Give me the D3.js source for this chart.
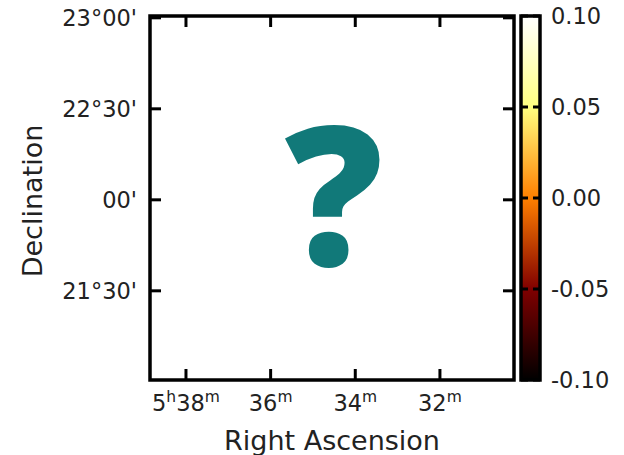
<!DOCTYPE html>
<html>
<head>
<meta charset="utf-8">
<script src="https://cdn.jsdelivr.net/npm/d3@7"></script>
<style>
  body { margin: 0; background: #fff; }
  text { font-family: "DejaVu Sans", sans-serif; fill: #222; }
</style>
</head>
<body>
<div id="wrapper"></div>
<script>
// axis ranges (RA in minutes of 5h, Dec in degrees)
const raDomain = [38.85, 30.25]
const decDomain = [21.01, 23.01]
const raTicks = [38, 36, 34, 32]
const decTicks = [23.0, 22.5, 22.0, 21.5]
const decTickLabels = ["23°00'", "22°30'", "00'", "21°30'"]
const cbDomain = [-0.10, 0.10]
const cbTicks = [0.10, 0.05, 0.00, -0.05, -0.10]

function drawChart() {
  let dimensions = {
    width: 624,
    height: 455,
    margin: { top: 16, right: 110, bottom: 75, left: 150 },
  }
  dimensions.boundedWidth = 364
  dimensions.boundedHeight = 364

  const svg = d3.select("#wrapper")
    .append("svg")
      .attr("width", dimensions.width)
      .attr("height", dimensions.height)

  const bounds = svg.append("g")
    .attr("transform", `translate(${dimensions.margin.left}, ${dimensions.margin.top})`)

  const xScale = d3.scaleLinear()
    .domain(raDomain)
    .range([0, dimensions.boundedWidth])

  const yScale = d3.scaleLinear()
    .domain(decDomain)
    .range([dimensions.boundedHeight, 0])

  // big question mark placeholder
  bounds.append("text")
    .attr("x", 184)
    .attr("y", 250)
    .attr("text-anchor", "middle")
    .style("font-family", "'Open Sans', sans-serif")
    .style("font-weight", 800)
    .style("font-size", "194px")
    .style("fill", "#117979")
    .text("?")

  // ticks, inward on all four sides
  const tickLen = 11
  const ticks = bounds.append("g")
    .attr("stroke", "#000")
    .attr("stroke-width", 3)
  raTicks.forEach(t => {
    const x = xScale(t)
    ticks.append("line").attr("x1", x).attr("x2", x)
      .attr("y1", dimensions.boundedHeight).attr("y2", dimensions.boundedHeight - tickLen)
    ticks.append("line").attr("x1", x).attr("x2", x)
      .attr("y1", 0).attr("y2", tickLen)
  })
  decTicks.forEach(t => {
    const y = yScale(t)
    ticks.append("line").attr("x1", 0).attr("x2", tickLen).attr("y1", y).attr("y2", y)
    ticks.append("line").attr("x1", dimensions.boundedWidth).attr("x2", dimensions.boundedWidth - tickLen)
      .attr("y1", y).attr("y2", y)
  })

  bounds.append("rect")
    .attr("width", dimensions.boundedWidth)
    .attr("height", dimensions.boundedHeight)
    .attr("fill", "none")
    .attr("stroke", "#000")
    .attr("stroke-width", 3.5)

  // x tick labels with superscripts
  const xLabels = bounds.append("g")
  raTicks.forEach((t, i) => {
    const tx = xLabels.append("text")
      .attr("x", xScale(t))
      .attr("y", dimensions.boundedHeight + 31)
      .attr("text-anchor", "middle")
      .style("font-size", "22.5px")
    if (i == 0) {
      tx.append("tspan").text("5")
      tx.append("tspan").attr("dy", -9).style("font-size", "15.5px").text("h")
      tx.append("tspan").attr("dy", 9).text(t)
    } else {
      tx.append("tspan").text(t)
    }
    tx.append("tspan").attr("dy", -9).style("font-size", "15.5px").text("m")
  })

  // y tick labels
  decTicks.forEach((t, i) => {
    bounds.append("text")
      .attr("x", -13)
      .attr("y", yScale(t))
      .attr("dy", "0.36em")
      .attr("text-anchor", "end")
      .style("font-size", "22.5px")
      .text(decTickLabels[i])
  })

  // axis labels
  svg.append("text")
    .attr("x", dimensions.margin.left + dimensions.boundedWidth / 2)
    .attr("y", 450)
    .attr("text-anchor", "middle")
    .style("font-size", "27px")
    .text("Right Ascension")

  svg.append("text")
    .attr("transform", `translate(42, ${dimensions.margin.top + dimensions.boundedHeight / 2 + 3}) rotate(-90)`)
    .attr("text-anchor", "middle")
    .style("font-size", "27px")
    .text("Declination")

  // colorbar (afmhot)
  const cbX = 521, cbW = 19
  const cbScale = d3.scaleLinear()
    .domain(cbDomain)
    .range([dimensions.margin.top + dimensions.boundedHeight, dimensions.margin.top])
  const afmhot = v => {
    const x = (v - cbDomain[0]) / (cbDomain[1] - cbDomain[0])
    const c = k => Math.round(255 * Math.max(0, Math.min(1, k)))
    return `rgb(${c(2 * x)},${c(2 * x - 0.5)},${c(2 * x - 1)})`
  }
  const defs = svg.append("defs")
  const grad = defs.append("linearGradient")
    .attr("id", "cb-grad")
    .attr("x1", 0).attr("x2", 0).attr("y1", 1).attr("y2", 0)
  d3.range(0, 1.0001, 0.05).forEach(f => {
    grad.append("stop")
      .attr("offset", f)
      .attr("stop-color", afmhot(cbDomain[0] + f * (cbDomain[1] - cbDomain[0])))
  })
  svg.append("rect")
    .attr("x", cbX)
    .attr("y", cbScale(cbDomain[1]))
    .attr("width", cbW)
    .attr("height", cbScale(cbDomain[0]) - cbScale(cbDomain[1]))
    .attr("fill", "url(#cb-grad)")
  const cbTickG = svg.append("g").attr("stroke", "#000").attr("stroke-width", 3)
  cbTicks.forEach(t => {
    const y = cbScale(t)
    cbTickG.append("line").attr("x1", cbX).attr("x2", cbX + 7).attr("y1", y).attr("y2", y)
    cbTickG.append("line").attr("x1", cbX + cbW).attr("x2", cbX + cbW - 7).attr("y1", y).attr("y2", y)
    svg.append("text")
      .attr("x", cbX + cbW + 11)
      .attr("y", y)
      .attr("dy", "0.36em")
      .style("font-size", "22.5px")
      .text(d3.format(".2f")(t).replace("−", "-"))
  })
  svg.append("rect")
    .attr("x", cbX)
    .attr("y", cbScale(cbDomain[1]))
    .attr("width", cbW)
    .attr("height", cbScale(cbDomain[0]) - cbScale(cbDomain[1]))
    .attr("fill", "none")
    .attr("stroke", "#000")
    .attr("stroke-width", 3.5)
}

drawChart()
</script>
</body>
</html>
